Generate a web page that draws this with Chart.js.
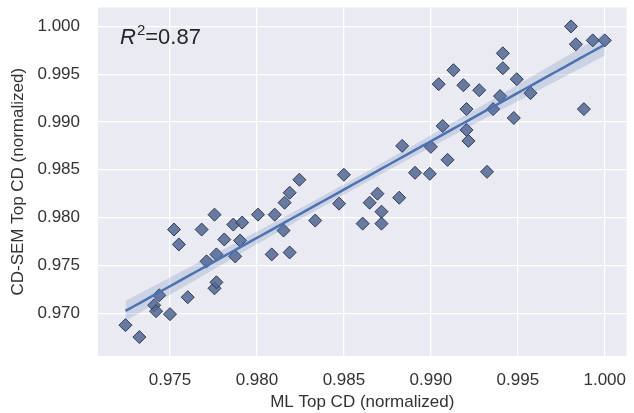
<!DOCTYPE html>
<html>
<head>
<meta charset="utf-8">
<script src="https://cdn.jsdelivr.net/npm/chart.js@4.4.1/dist/chart.umd.min.js"></script>
<style>
  html, body { margin: 0; padding: 0; background: #fff; }
  #wrap { width: 634px; height: 413px; }
</style>
</head>
<body>
<div id="wrap"><canvas id="fitChart"></canvas></div>
<script>
// ML prediction vs CD-SEM measurement, both normalized
const mlTopCD = [
  0.97244, 0.97324, 0.97409, 0.97420, 0.97438, 0.97500, 0.97602, 0.97756,
  0.97767, 0.97710, 0.97767, 0.97875, 0.98085, 0.98188, 0.97551, 0.97812,
  0.97903, 0.97523, 0.97682, 0.98153, 0.97864, 0.97915, 0.97756, 0.98006,
  0.98102, 0.98335, 0.98159, 0.98188, 0.98244, 0.98500, 0.98472, 0.98608,
  0.98716, 0.98716, 0.98648, 0.98693, 0.98818, 0.98909, 0.98994, 0.99323,
  0.99096, 0.98835, 0.99000, 0.99216, 0.99205, 0.99068, 0.99477, 0.99205,
  0.99358, 0.99880, 0.99398, 0.99573, 0.99278, 0.99187, 0.99045, 0.99494,
  0.99130, 0.99414, 0.99414, 0.99806, 0.99834, 0.99931, 1.00000
];
const semTopCD = [
  0.96875, 0.96750, 0.97083, 0.97021, 0.97187, 0.96990, 0.97167, 0.97260,
  0.97323, 0.97542, 0.97615, 0.97594, 0.97615, 0.97635, 0.97719, 0.97771,
  0.97760, 0.97875, 0.97875, 0.97865, 0.97927, 0.97948, 0.98031, 0.98031,
  0.98031, 0.97969, 0.98156, 0.98260, 0.98396, 0.98448, 0.98146, 0.97937,
  0.97937, 0.98062, 0.98156, 0.98250, 0.98208, 0.98469, 0.98458, 0.98479,
  0.98604, 0.98750, 0.98740, 0.98802, 0.98917, 0.98958, 0.99042, 0.99135,
  0.99135, 0.99135, 0.99271, 0.99302, 0.99333, 0.99385, 0.99396, 0.99448,
  0.99542, 0.99563, 0.99719, 1.00000, 0.99813, 0.99854, 0.99854
];
const xTicks = [0.975, 0.980, 0.985, 0.990, 0.995, 1.000];
const yTicks = [0.970, 0.975, 0.980, 0.985, 0.990, 0.995, 1.000];
const rSquaredText = "0.87";

// least squares fit + confidence band, like seaborn regplot
const n = mlTopCD.length;
const xMean = mlTopCD.reduce((a, b) => a + b, 0) / n;
const yMean = semTopCD.reduce((a, b) => a + b, 0) / n;
let sxx = 0, sxy = 0;
for (let i = 0; i < n; i++) {
  sxx += (mlTopCD[i] - xMean) ** 2;
  sxy += (mlTopCD[i] - xMean) * (semTopCD[i] - yMean);
}
const slope = sxy / sxx;
const intercept = yMean - slope * xMean;
let sse = 0;
for (let i = 0; i < n; i++) {
  sse += (semTopCD[i] - (intercept + slope * mlTopCD[i])) ** 2;
}
const sErr = Math.sqrt(sse / (n - 2));
const bandZ = 1.4;

const xMin = Math.min(...mlTopCD);
const xMax = Math.max(...mlTopCD);
const fitLine = [], bandHigh = [], bandLow = [];
for (let k = 0; k <= 60; k++) {
  const x = xMin + (xMax - xMin) * k / 60;
  const y = intercept + slope * x;
  const half = bandZ * sErr * Math.sqrt(1 / n + (x - xMean) ** 2 / sxx);
  fitLine.push({ x: x, y: y });
  bandHigh.push({ x: x, y: y + half });
  bandLow.push({ x: x, y: y - half });
}

const points = mlTopCD.map((x, i) => ({ x: x, y: semTopCD[i] }));

const plotBackground = {
  id: "plotBackground",
  beforeDraw(chart) {
    const a = chart.chartArea;
    const ctx = chart.ctx;
    ctx.save();
    ctx.fillStyle = "#EAEAF2";
    ctx.fillRect(a.left, a.top, a.right - a.left, a.bottom - a.top);
    ctx.restore();
  }
};

const rSquaredLabel = {
  id: "rSquaredLabel",
  afterDraw(chart) {
    const ctx = chart.ctx;
    let x = 120, y = 44;
    ctx.save();
    ctx.fillStyle = "#262626";
    ctx.textBaseline = "alphabetic";
    ctx.font = "italic 22px 'Liberation Sans'";
    ctx.fillText("R", x, y);
    x += ctx.measureText("R").width + 1;
    ctx.font = "15px 'Liberation Sans'";
    ctx.fillText("2", x, y - 9);
    x += ctx.measureText("2").width;
    ctx.font = "22px 'Liberation Sans'";
    ctx.fillText("=" + rSquaredText, x, y);
    ctx.restore();
  }
};

const tickFont = { family: "'Liberation Sans', Arial", size: 17 };

new Chart(document.getElementById("fitChart"), {
  type: "scatter",
  data: {
    datasets: [
      {
        data: points,
        pointStyle: "rectRot",
        pointRadius: 6.5,
        pointHoverRadius: 6.5,
        backgroundColor: "rgba(82,102,146,0.85)",
        borderColor: "#2f3a55",
        borderWidth: 1,
        order: 3
      },
      {
        data: bandHigh,
        showLine: true,
        pointRadius: 0,
        borderWidth: 0,
        borderColor: "rgba(0,0,0,0)",
        backgroundColor: "rgba(76,114,176,0.2)",
        fill: "+1",
        order: 2
      },
      {
        data: bandLow,
        showLine: true,
        pointRadius: 0,
        borderWidth: 0,
        borderColor: "rgba(0,0,0,0)",
        fill: false,
        order: 2
      },
      {
        data: fitLine,
        showLine: true,
        pointRadius: 0,
        borderColor: "#4C72B0",
        borderWidth: 2.5,
        fill: false,
        order: 1
      }
    ]
  },
  options: {
    responsive: true,
    maintainAspectRatio: false,
    animation: false,
    events: [],
    layout: { padding: { top: 6, right: 0, bottom: 0, left: 0 } },
    plugins: {
      legend: { display: false },
      tooltip: { enabled: false }
    },
    scales: {
      x: {
        type: "linear",
        min: 0.97086,
        max: 1.00125,
        afterBuildTicks: (scale) => { scale.ticks = xTicks.map(v => ({ value: v })); },
        afterFit: (scale) => {
          scale.height = 57;
          scale.paddingLeft = 0;
          scale.paddingRight = 0;
        },
        grid: { color: "#ffffff", lineWidth: 1.3, drawTicks: false },
        border: { display: false },
        ticks: {
          padding: 14,
          color: "#333333",
          font: tickFont,
          callback: (v) => v.toFixed(3)
        },
        title: {
          display: true,
          text: "ML Top CD (normalized)",
          color: "#333333",
          font: tickFont,
          padding: 0
        }
      },
      y: {
        type: "linear",
        min: 0.96552,
        max: 1.00198,
        afterBuildTicks: (scale) => { scale.ticks = yTicks.map(v => ({ value: v })); },
        afterFit: (scale) => {
          scale.width = 98;
          scale.paddingTop = 0;
          scale.paddingBottom = 0;
        },
        grid: { color: "#ffffff", lineWidth: 1.3, drawTicks: false },
        border: { display: false },
        ticks: {
          padding: 18,
          color: "#333333",
          font: tickFont,
          callback: (v) => v.toFixed(3)
        },
        title: {
          display: true,
          text: "CD-SEM Top CD (normalized)",
          color: "#333333",
          font: tickFont,
          padding: { top: 8, bottom: 0 }
        }
      }
    }
  },
  plugins: [plotBackground, rSquaredLabel]
});
</script>
</body>
</html>
